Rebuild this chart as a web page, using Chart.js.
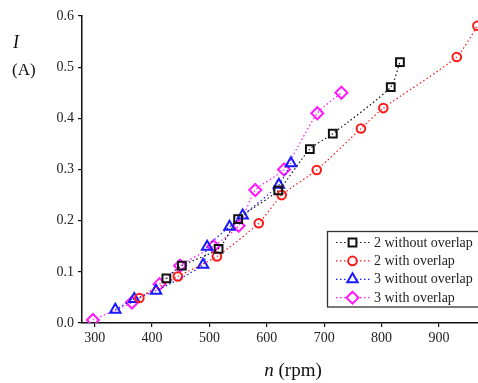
<!DOCTYPE html>
<html>
<head>
<meta charset="utf-8">
<script src="https://cdn.jsdelivr.net/npm/chart.js@4.4.1/dist/chart.umd.min.js"></script>
<style>
  html, body { margin: 0; padding: 0; background: #fff; }
  #wrap { width: 478px; height: 383px; }
</style>
</head>
<body>
<div id="wrap"><canvas id="currentChart"></canvas></div>
<script>
// current I (A) against speed n (rpm), one pair of arrays per winding layout
const speed2NoOverlap = [425, 452, 516, 550, 620, 675, 715, 816, 832];
const current2NoOverlap = [0.087, 0.112, 0.145, 0.203, 0.259, 0.34, 0.37, 0.461, 0.51];

const speed2Overlap = [378, 445, 513, 586, 626, 687, 764, 803, 931, 967];
const current2Overlap = [0.049, 0.091, 0.13, 0.195, 0.25, 0.299, 0.38, 0.42, 0.52, 0.581];

const speed3NoOverlap = [336, 369, 407, 489, 496, 535, 558, 621, 642];
const current3NoOverlap = [0.026, 0.047, 0.063, 0.114, 0.149, 0.188, 0.21, 0.27, 0.312];

const speed3Overlap = [297, 365, 413, 449, 507, 551, 580, 630, 688, 730];
const current3Overlap = [0.006, 0.04, 0.076, 0.112, 0.15, 0.19, 0.26, 0.3, 0.41, 0.45];

const seriesNames = ['2 without overlap', '2 with overlap', '3 without overlap', '3 with overlap'];
const xTicks = [300, 400, 500, 600, 700, 800, 900];
const yTicks = [0, 0.1, 0.2, 0.3, 0.4, 0.5, 0.6];

const serif = "'Liberation Serif', 'DejaVu Serif', serif";

function toPoints(xs, ys) {
	return xs.map((x, i) => ({ x: x, y: ys[i] }));
}

function makeSet(label, xs, ys, color, style, radius) {
	return {
		label: label,
		data: toPoints(xs, ys),
		showLine: true,
		borderColor: color,
		borderWidth: 1.2,
		borderDash: [1.5, 2.5],
		tension: 0.2,
		pointStyle: style,
		pointRadius: radius,
		pointHoverRadius: radius,
		pointBorderColor: color,
		pointBackgroundColor: 'rgba(255,255,255,0)',
		pointBorderWidth: 2
	};
}

const datasets = [
	makeSet(seriesNames[0], speed2NoOverlap, current2NoOverlap, '#111111', 'rect', 5.5),
	makeSet(seriesNames[1], speed2Overlap, current2Overlap, '#ff1a1a', 'circle', 4.3),
	makeSet(seriesNames[2], speed3NoOverlap, current3NoOverlap, '#1a1aff', 'triangle', 6),
	makeSet(seriesNames[3], speed3Overlap, current3Overlap, '#ff1aff', 'rectRot', 6)
];

// axis titles: italic symbol plus unit
const axisTitles = {
	id: 'axisTitles',
	afterDraw(chart) {
		const ctx = chart.ctx;
		ctx.save();
		ctx.fillStyle = '#111';
		ctx.textBaseline = 'middle';
		ctx.textAlign = 'left';
		ctx.font = 'italic 18px ' + serif;
		ctx.fillText('I', 13, 43);
		ctx.font = '17px ' + serif;
		ctx.fillText('(A)', 12, 71);

		ctx.font = 'italic 19px ' + serif;
		const nW = ctx.measureText('n').width;
		ctx.font = '19px ' + serif;
		const restW = ctx.measureText(' (rpm)').width;
		let x = 293 - (nW + restW) / 2;
		ctx.font = 'italic 19px ' + serif;
		ctx.fillText('n', x, 371);
		ctx.font = '19px ' + serif;
		ctx.fillText(' (rpm)', x + nW, 371);
		ctx.restore();
	}
};

// boxed legend in the lower right of the plot
const boxLegend = {
	id: 'boxLegend',
	afterDatasetsDraw(chart) {
		const ctx = chart.ctx;
		const left = 327.5, top = 231.5, w = 160, h = 75.5;
		ctx.save();
		ctx.fillStyle = '#fff';
		ctx.fillRect(left, top, w, h);
		ctx.strokeStyle = '#333';
		ctx.lineWidth = 1.3;
		ctx.strokeRect(left, top, w, h);

		chart.data.datasets.forEach((ds, i) => {
			const y = 242.5 + i * 18.4;
			ctx.strokeStyle = ds.borderColor;
			ctx.lineWidth = 1.2;
			ctx.setLineDash([1.5, 2.5]);
			ctx.beginPath();
			ctx.moveTo(336, y);
			ctx.lineTo(370, y);
			ctx.stroke();
			ctx.setLineDash([]);

			ctx.fillStyle = '#fff';
			ctx.strokeStyle = ds.pointBorderColor;
			ctx.lineWidth = ds.pointBorderWidth;
			Chart.helpers.drawPoint(ctx, {
				pointStyle: ds.pointStyle,
				radius: ds.pointRadius,
				rotation: 0,
				borderWidth: ds.pointBorderWidth
			}, 352.5, y);

			ctx.fillStyle = '#222';
			ctx.font = '14px ' + serif;
			ctx.textAlign = 'left';
			ctx.textBaseline = 'middle';
			ctx.fillText(ds.label, 374, y + 0.5);
		});
		ctx.restore();
	}
};

new Chart(document.getElementById('currentChart'), {
	type: 'scatter',
	data: { datasets: datasets },
	options: {
		responsive: true,
		maintainAspectRatio: false,
		animation: false,
		events: [],
		// plot runs right up to the canvas edge, no room kept for point overflow
		layout: { autoPadding: false, padding: { top: 16, right: 0, left: 0, bottom: 0 } },
		plugins: {
			legend: { display: false },
			tooltip: { enabled: false }
		},
		scales: {
			x: {
				type: 'linear',
				min: 278,
				max: 968,
				afterBuildTicks: (scale) => { scale.ticks = xTicks.map(v => ({ value: v })); },
				afterFit: (scale) => { scale.height = 60; },
				grid: { drawOnChartArea: false, drawTicks: true, tickLength: 4, color: '#111', lineWidth: 1.2 },
				border: { display: true, color: '#111', width: 1.5 },
				ticks: { color: '#222', padding: 3, font: { family: serif, size: 14 } }
			},
			y: {
				type: 'linear',
				min: 0,
				max: 0.6,
				afterBuildTicks: (scale) => { scale.ticks = yTicks.map(v => ({ value: v })); },
				afterFit: (scale) => { scale.width = 82; },
				grid: { drawOnChartArea: false, drawTicks: true, tickLength: 4, color: '#111', lineWidth: 1.2 },
				border: { display: true, color: '#111', width: 1.5 },
				ticks: {
					color: '#222',
					padding: 4,
					font: { family: serif, size: 14 },
					callback: (v) => Number(v).toFixed(1)
				}
			}
		}
	},
	plugins: [axisTitles, boxLegend]
});
</script>
</body>
</html>
